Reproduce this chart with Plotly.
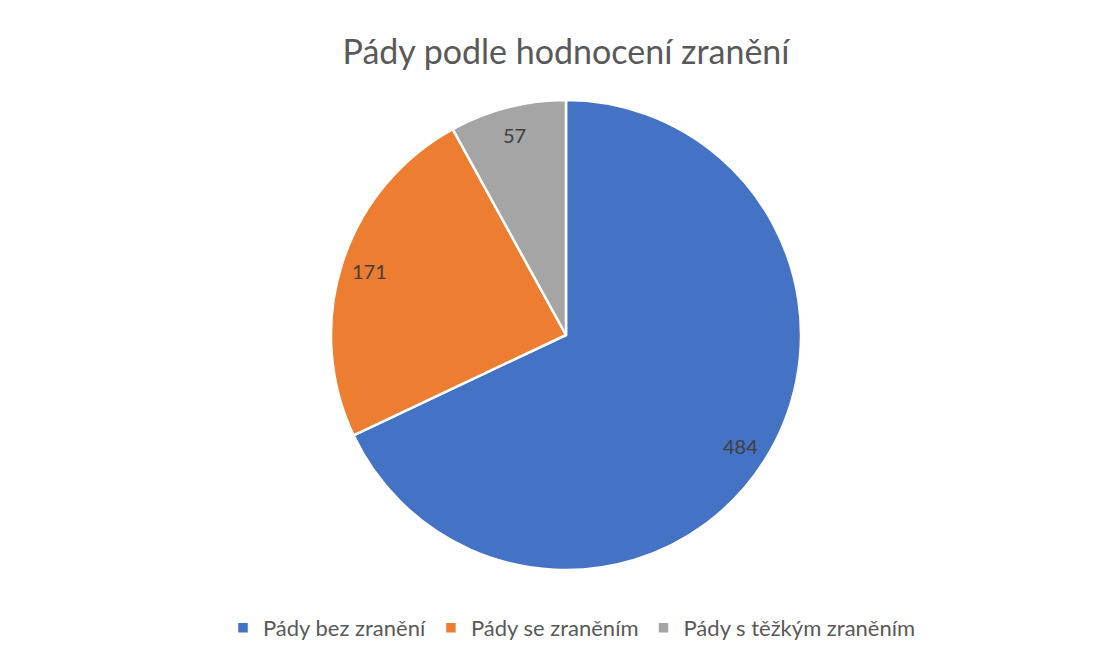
import math
import plotly.graph_objects as go

labels = ["Pády bez zranění", "Pády se zraněním", "Pády s těžkým zraněním"]
values = [484, 171, 57]
colors = ["#4472C4", "#ED7D31", "#A5A5A5"]

W, H = 1107, 651
OFF = 8  # default page body margin
cx, cy, R = 566 - OFF, 335 - OFF, 235
FONT = "Lato, Open Sans, sans-serif"

fig = go.Figure(go.Pie(
    labels=labels, values=values, sort=False, direction="clockwise", rotation=0,
    marker=dict(colors=colors, line=dict(color="white", width=2.5)),
    textinfo="none", hoverinfo="label+value",
    domain=dict(x=[(cx - R) / W, (cx + R) / W], y=[1 - (cy + R) / H, 1 - (cy - R) / H]),
))

total = sum(values)
cum = 0
annotations = []
for v in values:
    mid = (cum + v / 2) / total * 2 * math.pi
    cum += v
    r = 0.88 * R
    px = cx + r * math.sin(mid)
    py = cy - r * math.cos(mid)
    annotations.append(dict(x=px / W, y=1 - py / H, xref="paper", yref="paper",
                            xanchor="center", yanchor="middle",
                            text=str(v), showarrow=False,
                            font=dict(family=FONT, size=20, color="#404040")))

fig.update_layout(
    width=W, height=H,
    margin=dict(l=0, r=0, t=0, b=0),
    paper_bgcolor="white", plot_bgcolor="white",
    title=dict(text="Pády podle hodnocení zranění", x=(566 - OFF) / W, xanchor="center",
               y=1 - (52 - OFF) / H, yanchor="middle",
               font=dict(family=FONT, size=34, color="#595959")),
    legend=dict(orientation="h", x=(572 - OFF) / W, xanchor="center", y=1 - (628 - OFF) / H, yanchor="middle",
                font=dict(family=FONT, size=22, color="#595959"),
                itemwidth=30, traceorder="normal"),
    annotations=annotations,
)

fig.write_html("out.html")
